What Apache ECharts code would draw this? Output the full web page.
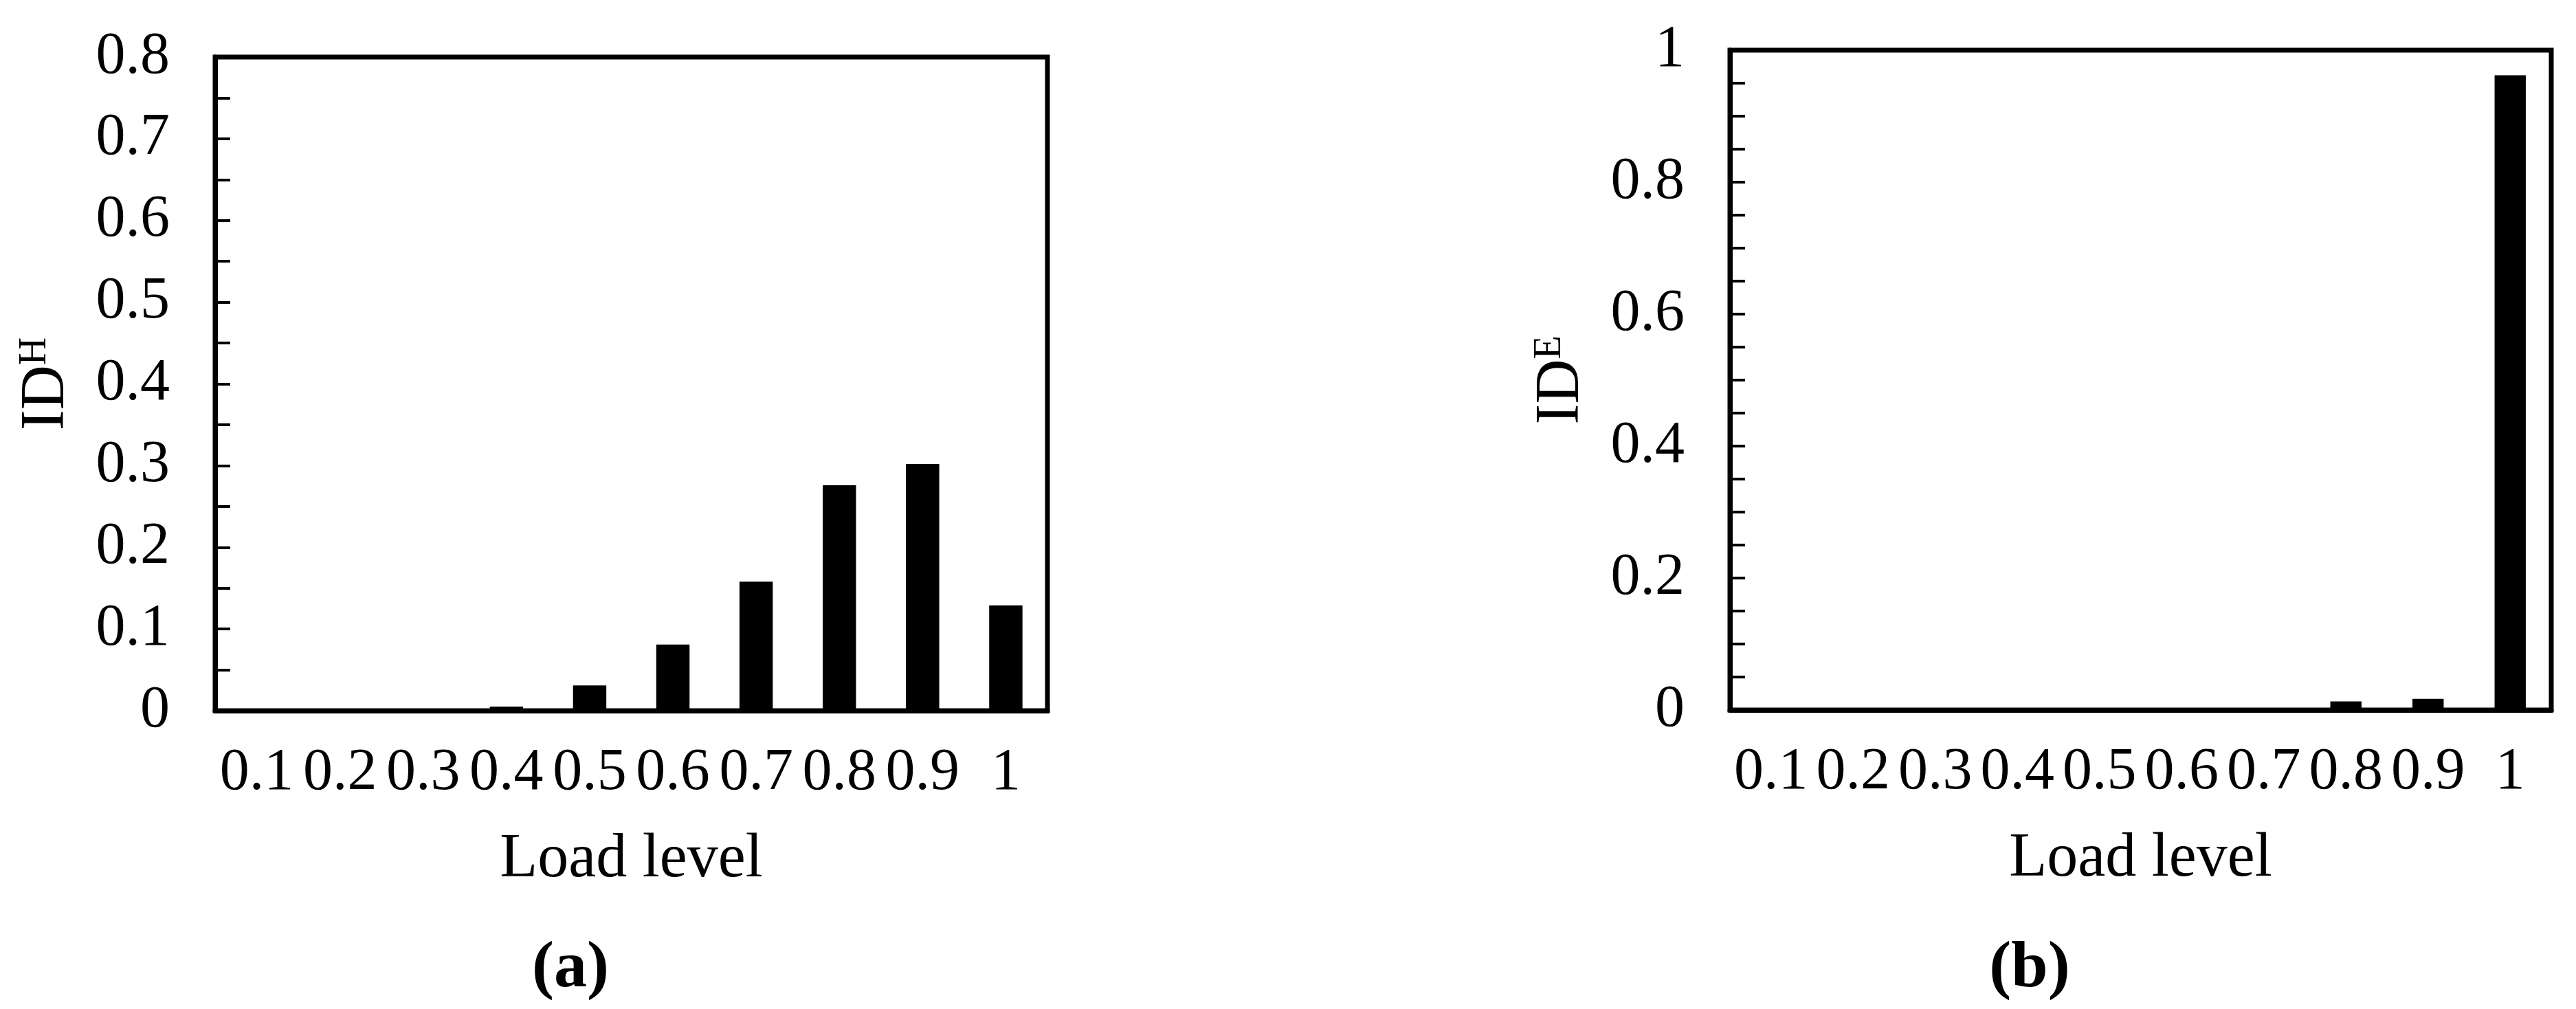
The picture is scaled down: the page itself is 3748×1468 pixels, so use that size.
<!DOCTYPE html>
<html>
<head>
<meta charset="utf-8">
<script src="https://cdn.jsdelivr.net/npm/echarts@6/dist/echarts.min.js"></script>
<style>
  html, body { margin: 0; padding: 0; background: #fff; }
  #chart { width: 3748px; height: 1468px; }
</style>
</head>
<body>
<div id="chart"></div>
<script>
// load levels on the x axis (both panels)
const loadLevels = ['0.1', '0.2', '0.3', '0.4', '0.5', '0.6', '0.7', '0.8', '0.9', '1']
// panel (a): ID^H
const idH = [0, 0, 0, 0.005, 0.031, 0.081, 0.158, 0.276, 0.302, 0.129]
// panel (b): ID^E
const idE = [0, 0, 0, 0, 0, 0, 0, 0.013, 0.017, 0.962]

const serif = '"Liberation Serif", "Times New Roman", serif'
const black = '#000'

function xAxisFor(gridIndex) {
  return {
    type: 'category',
    gridIndex,
    data: loadLevels,
    name: 'Load level',
    nameLocation: 'middle',
    nameGap: 172,
    nameTextStyle: { color: black, fontFamily: serif, fontSize: 90 },
    axisLine: { lineStyle: { color: black, width: 7 } },
    axisTick: { show: false },
    axisLabel: { color: black, fontFamily: serif, fontSize: 86, margin: 48, interval: 0 },
    splitLine: { show: false },
  }
}

function yAxisFor(gridIndex, max, interval, minorSplit, sup) {
  return {
    type: 'value',
    gridIndex,
    min: 0,
    max,
    interval,
    name: '{m|ID}{s|' + sup + '}',
    nameLocation: 'middle',
    nameRotate: 90,
    nameGap: 200,
    nameTextStyle: {
      color: black,
      rich: {
        m: { fontFamily: serif, fontSize: 90, color: black },
        s: { fontFamily: serif, fontSize: 56, color: black, verticalAlign: 'top' },
      },
    },
    axisLine: { show: true, lineStyle: { color: black, width: 7 } },
    axisTick: { show: true, inside: true, length: 22, lineStyle: { color: black, width: 4 } },
    minorTick: { show: true, splitNumber: minorSplit, length: 22, lineStyle: { color: black, width: 4 } },
    axisLabel: { color: black, fontFamily: serif, fontSize: 86, margin: 66 },
    splitLine: { show: false },
  }
}

function barSeries(idx, data, width) {
  return {
    type: 'bar',
    xAxisIndex: idx,
    yAxisIndex: idx,
    data,
    barWidth: width,
    itemStyle: { color: black },
    animation: false,
  }
}

function panelTitle(letter, x) {
  return {
    text: '{p|(}{b|' + letter + '}{p|)}',
    left: x,
    top: 1405,
    textAlign: 'center',
    textVerticalAlign: 'middle',
    textStyle: {
      rich: {
        p: { fontFamily: serif, fontSize: 96, color: black },
        b: { fontFamily: serif, fontSize: 96, fontWeight: 'bold', color: black },
      },
    },
  }
}

const chart = echarts.init(document.getElementById('chart'))
chart.setOption({
  backgroundColor: '#fff',
  grid: [
    { left: 313, top: 83, width: 1211, height: 951, show: true, borderColor: black, borderWidth: 7 },
    { left: 2517, top: 73, width: 1195, height: 960, show: true, borderColor: black, borderWidth: 7 },
  ],
  title: [panelTitle('a', 825), panelTitle('b', 2948)],
  xAxis: [xAxisFor(0), xAxisFor(1)],
  yAxis: [yAxisFor(0, 0.8, 0.1, 2, 'H'), yAxisFor(1, 1, 0.2, 4, 'E')],
  series: [barSeries(0, idH, '40%'), barSeries(1, idE, '38%')],
})
</script>
</body>
</html>
